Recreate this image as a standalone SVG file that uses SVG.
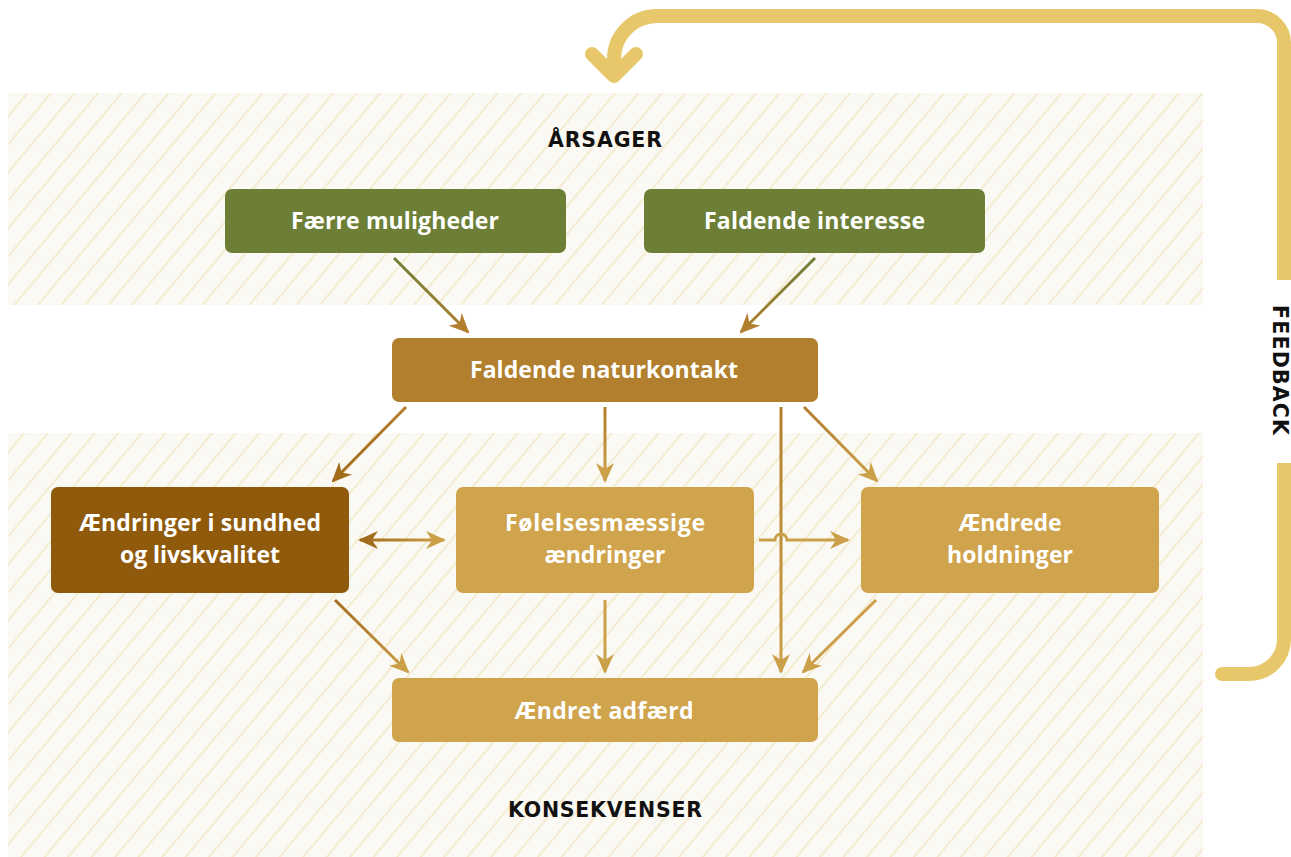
<svg xmlns="http://www.w3.org/2000/svg" width="1291" height="857" viewBox="0 0 1291 857">
<style>
.band{fill:url(#hatch)}
.node text{font-family:"Open Sans","Liberation Sans",sans-serif;font-weight:700;font-size:23px;fill:#ffffff;text-anchor:middle}
.hdr{font-family:"DejaVu Sans","Liberation Sans",sans-serif;font-weight:bold;font-size:20.5px;fill:#111111;text-anchor:middle}
.conn line,.conn path{fill:none;stroke-width:3}
.fb{fill:none;stroke:#e8c76a;stroke-width:14}
</style>
<defs>
<pattern id="hatch" patternUnits="userSpaceOnUse" width="18" height="18" patternTransform="rotate(40)">
<rect width="18" height="18" fill="#fbf9f3"/>
<line x1="9" y1="0" x2="9" y2="18" stroke="#f0e3bb" stroke-width="1.2"/>
</pattern>
<marker id="mNat" viewBox="0 0 20 18" markerUnits="userSpaceOnUse" markerWidth="20" markerHeight="18" refX="18" refY="9" orient="auto-start-reverse"><path d="M0,0 L20,9 L0,18 L6,9 Z" fill="#b17f2d"/></marker>
<marker id="mSund" viewBox="0 0 20 18" markerUnits="userSpaceOnUse" markerWidth="20" markerHeight="18" refX="18" refY="9" orient="auto-start-reverse"><path d="M0,0 L20,9 L0,18 L6,9 Z" fill="#a36c1c"/></marker>
<marker id="mGold" viewBox="0 0 20 18" markerUnits="userSpaceOnUse" markerWidth="20" markerHeight="18" refX="18" refY="9" orient="auto-start-reverse"><path d="M0,0 L20,9 L0,18 L6,9 Z" fill="#cba049"/></marker>
<linearGradient id="g1" gradientUnits="userSpaceOnUse" x1="394" y1="258" x2="468" y2="332"><stop offset="0" stop-color="#6d7f37"/><stop offset="1" stop-color="#b17f2d"/></linearGradient>
<linearGradient id="g2" gradientUnits="userSpaceOnUse" x1="815" y1="258" x2="741" y2="332"><stop offset="0" stop-color="#6d7f37"/><stop offset="1" stop-color="#b17f2d"/></linearGradient>
<linearGradient id="g3" gradientUnits="userSpaceOnUse" x1="406" y1="407" x2="333" y2="481"><stop offset="0" stop-color="#b17f2d"/><stop offset="1" stop-color="#a36c1c"/></linearGradient>
<linearGradient id="g4" gradientUnits="userSpaceOnUse" x1="605" y1="407" x2="605" y2="481"><stop offset="0" stop-color="#b17f2d"/><stop offset="1" stop-color="#cba049"/></linearGradient>
<linearGradient id="g5" gradientUnits="userSpaceOnUse" x1="781" y1="407" x2="781" y2="672"><stop offset="0" stop-color="#b17f2d"/><stop offset="1" stop-color="#cba049"/></linearGradient>
<linearGradient id="g6" gradientUnits="userSpaceOnUse" x1="804" y1="407" x2="877" y2="481"><stop offset="0" stop-color="#b17f2d"/><stop offset="1" stop-color="#cba049"/></linearGradient>
<linearGradient id="g7" gradientUnits="userSpaceOnUse" x1="360" y1="540" x2="444" y2="540"><stop offset="0" stop-color="#a36c1c"/><stop offset="1" stop-color="#cba049"/></linearGradient>
<linearGradient id="g8" gradientUnits="userSpaceOnUse" x1="335" y1="600" x2="408" y2="672"><stop offset="0" stop-color="#a36c1c"/><stop offset="1" stop-color="#cba049"/></linearGradient>
</defs>
<rect width="1291" height="857" fill="#ffffff"/>
<g id="bands">
<rect class="band" x="8" y="93" width="1195" height="212"/>
<rect class="band" x="8" y="433" width="1195" height="424"/>
</g>
<g id="labels">
<text class="hdr" x="605" y="147" textLength="114" lengthAdjust="spacing">ÅRSAGER</text>
<text class="hdr" x="605" y="817" textLength="194" lengthAdjust="spacing">KONSEKVENSER</text>
</g>
<g id="feedback">
<path class="fb" d="M1284,280 V43 A27,27 0 0 0 1257,16 H657 A43,43 0 0 0 614,59 V76"/>
<path class="fb" d="M592,54 L614,76 L636,54" stroke-linecap="round" stroke-linejoin="round"/>
<path class="fb" d="M1284,463 V639 A35,35 0 0 1 1249,674 H1222"/>
<circle cx="1222" cy="674" r="7" fill="#e8c76a"/>
<text class="hdr" transform="translate(1273,370) rotate(90)" x="0" y="0" font-size="21" textLength="130" lengthAdjust="spacing">FEEDBACK</text>
</g>
<g id="connectors" class="conn">
<line x1="394" y1="258" x2="468" y2="332" stroke="url(#g1)" marker-end="url(#mNat)"/>
<line x1="815" y1="258" x2="741" y2="332" stroke="url(#g2)" marker-end="url(#mNat)"/>
<line x1="406" y1="407" x2="333" y2="481" stroke="url(#g3)" marker-end="url(#mSund)"/>
<line x1="605" y1="407" x2="605" y2="481" stroke="url(#g4)" marker-end="url(#mGold)"/>
<line x1="781" y1="407" x2="781" y2="672" stroke="url(#g5)" marker-end="url(#mGold)"/>
<line x1="804" y1="407" x2="877" y2="481" stroke="url(#g6)" marker-end="url(#mGold)"/>
<line x1="360" y1="540" x2="444" y2="540" stroke="url(#g7)" marker-start="url(#mSund)" marker-end="url(#mGold)"/>
<path d="M759,540 H775 A6,6 0 0 1 787,540 H848" stroke="#cba049" marker-end="url(#mGold)"/>
<line x1="335" y1="600" x2="408" y2="672" stroke="url(#g8)" marker-end="url(#mGold)"/>
<line x1="605" y1="600" x2="605" y2="672" stroke="#cba049" marker-end="url(#mGold)"/>
<line x1="876" y1="600" x2="803" y2="672" stroke="#cba049" marker-end="url(#mGold)"/>
</g>
<g id="n-faerre" class="node">
<rect x="225" y="189" width="341" height="64" rx="7" fill="#6d7f37"/>
<text x="395" y="229" textLength="208" lengthAdjust="spacing">Færre muligheder</text>
</g>
<g id="n-interesse" class="node">
<rect x="644" y="189" width="341" height="64" rx="7" fill="#6d7f37"/>
<text x="814.5" y="229" textLength="221" lengthAdjust="spacing">Faldende interesse</text>
</g>
<g id="n-naturkontakt" class="node">
<rect x="392" y="338" width="426" height="64" rx="7" fill="#b17f2d"/>
<text x="604" y="378" textLength="268" lengthAdjust="spacing">Faldende naturkontakt</text>
</g>
<g id="n-sundhed" class="node">
<rect x="51" y="487" width="298" height="106" rx="7" fill="#8f5a0b"/>
<text x="200" y="531" textLength="242" lengthAdjust="spacing">Ændringer i sundhed</text>
<text x="200" y="563" textLength="160" lengthAdjust="spacing">og livskvalitet</text>
</g>
<g id="n-foelelse" class="node">
<rect x="456" y="487" width="298" height="106" rx="7" fill="#cfa44d"/>
<text x="605" y="531" textLength="200" lengthAdjust="spacing">Følelsesmæssige</text>
<text x="605" y="563" textLength="121" lengthAdjust="spacing">ændringer</text>
</g>
<g id="n-holdninger" class="node">
<rect x="861" y="487" width="298" height="106" rx="7" fill="#cfa44d"/>
<text x="1010" y="531" textLength="103" lengthAdjust="spacing">Ændrede</text>
<text x="1010" y="563" textLength="126" lengthAdjust="spacing">holdninger</text>
</g>
<g id="n-adfaerd" class="node">
<rect x="392" y="678" width="426" height="64" rx="7" fill="#cfa44d"/>
<text x="604" y="719" textLength="179" lengthAdjust="spacing">Ændret adfærd</text>
</g>
</svg>
